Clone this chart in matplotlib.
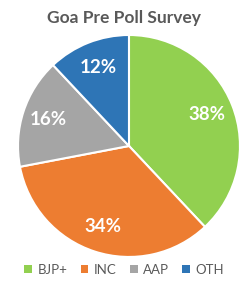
import matplotlib
matplotlib.use('Agg')
import matplotlib.pyplot as plt
from matplotlib.patches import Patch

# Chart data
parties = ['BJP+', 'INC', 'AAP', 'OTH']
shares = [38, 34, 16, 12]
colors = ['#92D050', '#ED7D31', '#A5A5A5', '#2E75B6']

plt.rcParams['font.family'] = ['Lato', 'DejaVu Sans']

fig = plt.figure(figsize=(2.48, 2.84), dpi=100)
ax = fig.add_axes([0.0726, 0.095, 0.895, 0.782])

wedges, texts, autotexts = ax.pie(
    shares, colors=colors, startangle=90, counterclock=False,
    autopct='%d%%', pctdistance=0.76,
    wedgeprops=dict(edgecolor='white', linewidth=1.5),
    textprops=dict(color='white', fontsize=13.5, fontweight='bold'),
)
ax.set_xlim(-1, 1)
ax.set_ylim(-1, 1)
ax.set_aspect('equal')

fig.text(0.5, 0.937, 'Goa Pre Poll Survey', ha='center', va='center',
         fontsize=12.5, fontweight='bold', color='#595959')

# legend below the pie
handles = [Patch(facecolor=c, edgecolor='none') for c in colors]
fig.legend(handles, parties, loc='center', bbox_to_anchor=(0.5, 0.05),
           ncol=4, frameon=False, fontsize=9.5, handlelength=0.6,
           handleheight=0.6, handletextpad=0.4, columnspacing=1.0,
           labelcolor='#595959')

fig.savefig('out.png', dpi=100)
